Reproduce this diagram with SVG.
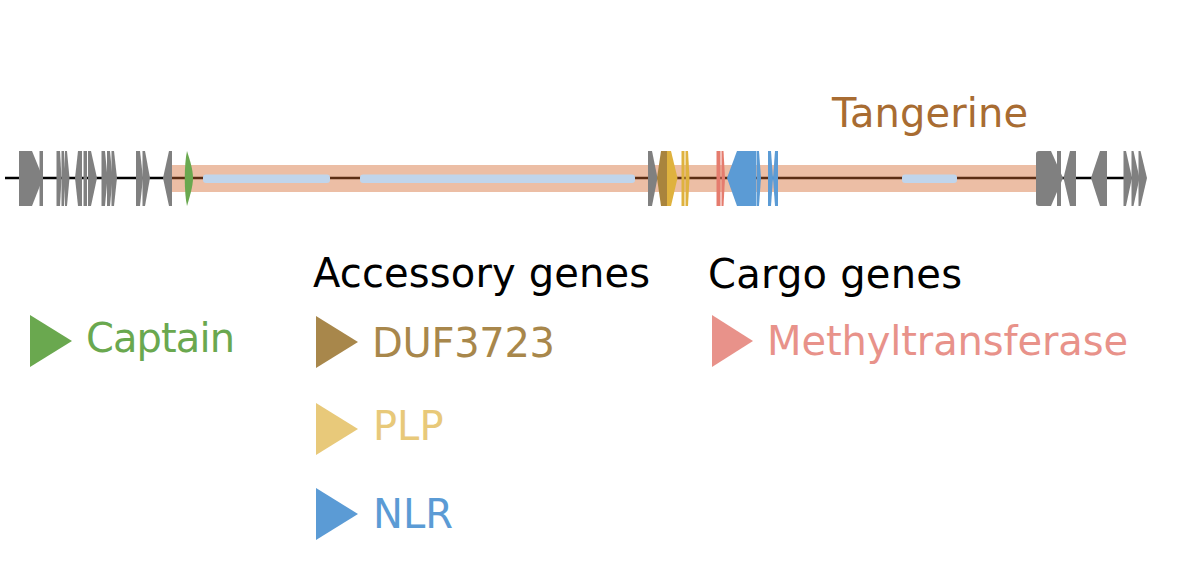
<svg xmlns="http://www.w3.org/2000/svg" width="1200" height="568" viewBox="0 0 1200 568">
<style>
text{font-family:"DejaVu Sans","Liberation Sans",sans-serif;font-size:40px}
.g{fill:#808080}
.duf{fill:#a9843d}
.plp{fill:#dfb23e}
.met{fill:#e57c6e}
.nlr{fill:#5b9bd5}
.cap{fill:#6aa84f}
.seg{fill:#c0d5ec}
</style>
<rect width="1200" height="568" fill="#ffffff"/>
<g id="track">
<line x1="5" y1="178" x2="1145" y2="178" stroke="#000" stroke-width="2.6"/>
<rect id="tangerine-band" x="172" y="165" width="864" height="27" fill="#d2692f" opacity="0.43"/>
<rect x="203" y="174.5" width="127" height="8.5" rx="3" class="seg"/>
<rect x="360" y="174.5" width="275" height="8.5" rx="3" class="seg"/>
<rect x="902" y="174.5" width="55" height="8.5" rx="3" class="seg"/>
</g>
<g id="genes-left">
<polygon class="g" points="19,151 32,151 43,178 32,206 19,206"/>
<polygon class="g" points="39.5,151 43,151 43,206 39.5,206"/>
<polygon class="g" points="56.5,151 60,151 61.5,178 60,206 56.5,206"/>
<polygon class="g" points="61.5,151 64,151 65.5,178 64,206 61.5,206"/>
<polygon class="g" points="65,151 67,151 69.5,178 67,206 65,206"/>
<polygon class="g" points="75,178 78,151 82,151 82,206 78,206"/>
<polygon class="g" points="83.5,151 87,151 87,206 83.5,206"/>
<polygon class="g" points="88,151 91,151 97,178 91,206 88,206"/>
<polygon class="g" points="101.5,151 105,151 107.5,178 105,206 101.5,206"/>
<polygon class="g" points="107,151 110,151 112.5,178 110,206 107,206"/>
<polygon class="g" points="111.5,151 114,151 117,178 114,206 111.5,206"/>
<polygon class="g" points="136,151 140,151 143,178 140,206 136,206"/>
<polygon class="g" points="142.5,151 145,151 150,178 145,206 142.5,206"/>
<polygon class="g" points="163,178 169,151 172,151 172,206 169,206"/>
</g>
<g id="gene-captain">
<path class="cap" d="M187,151 C184,165 184,192 187,206 C190,196 193,186 193,178 C193,170 190,160 187,151 Z"/>
</g>
<g id="genes-accessory">
<polygon class="g" points="648,151 652,151 657.5,178 652,206 648,206"/>
<polygon class="duf" points="657,178 661,151 667,151 667,206 661,206"/>
<polygon class="duf" points="661,151 665,151 670,178 665,206 661,206"/>
<polygon class="plp" points="667,151 671,151 677.5,178 671,206 667,206"/>
<polygon class="plp" points="681.5,151 684.5,151 684.5,206 681.5,206"/>
<polygon class="plp" points="685.5,151 688,151 689.5,178 688,206 685.5,206"/>
</g>
<g id="genes-cargo">
<polygon class="met" points="716.5,151 720.5,151 720.5,206 716.5,206"/>
<polygon class="met" points="721.5,151 723.5,151 725,178 723.5,206 721.5,206"/>
<polygon class="nlr" points="727,178 737,151 756,151 756,206 737,206"/>
<polygon class="nlr" points="756.5,151 759,151 761,178 759,206 756.5,206"/>
<polygon class="nlr" points="768,151 771,151 773,178 771,206 768,206"/>
<polygon class="nlr" points="773,178 775,151 778,151 778,206 775,206"/>
</g>
<g id="genes-right">
<path class="g" d="M1036,154 Q1036,151 1039,151 L1051,151 L1063,178 L1051,206 L1039,206 Q1036,206 1036,203 Z"/>
<polygon class="g" points="1057,151 1061,151 1061,206 1057,206"/>
<polygon class="g" points="1063.5,178 1070,151 1076,151 1076,206 1070,206"/>
<polygon class="g" points="1091,178 1100,151 1107,151 1107,206 1100,206"/>
<polygon class="g" points="1123.5,151 1126,151 1132,178 1126,206 1123.5,206"/>
<polygon class="g" points="1131.5,151 1133.5,151 1139.5,178 1133.5,206 1131.5,206"/>
<polygon class="g" points="1138.5,151 1140.5,151 1147,178 1140.5,206 1138.5,206"/>
</g>
<g id="title">
<text x="832" y="127" fill="#a86c32" font-size="39" textLength="196">Tangerine</text>
</g>
<g id="legend-captain">
<polygon class="cap" points="30,315 72,341 30,367"/>
<text x="86" y="352" fill="#6aa84f" textLength="149">Captain</text>
</g>
<g id="legend-accessory">
<text x="313" y="287" fill="#000" textLength="337">Accessory genes</text>
</g>
<g id="legend-duf">
<polygon points="316,316 358,342 316,368" fill="#a8874b"/>
<text x="372" y="357" fill="#a8874b" textLength="183">DUF3723</text>
</g>
<g id="legend-plp">
<polygon points="316,403 358,429 316,455" fill="#e8c97a"/>
<text x="373" y="440" fill="#e8c97a">PLP</text>
</g>
<g id="legend-nlr">
<polygon points="316,488 358,514 316,540" fill="#5b9bd5"/>
<text x="373" y="528" fill="#5b9bd5">NLR</text>
</g>
<g id="legend-cargo">
<text x="708" y="288" fill="#000" textLength="254">Cargo genes</text>
</g>
<g id="legend-methyl">
<polygon points="712,315 753,341 712,367" fill="#e8928a"/>
<text x="767" y="355" fill="#e8928a" textLength="361">Methyltransferase</text>
</g>
</svg>
